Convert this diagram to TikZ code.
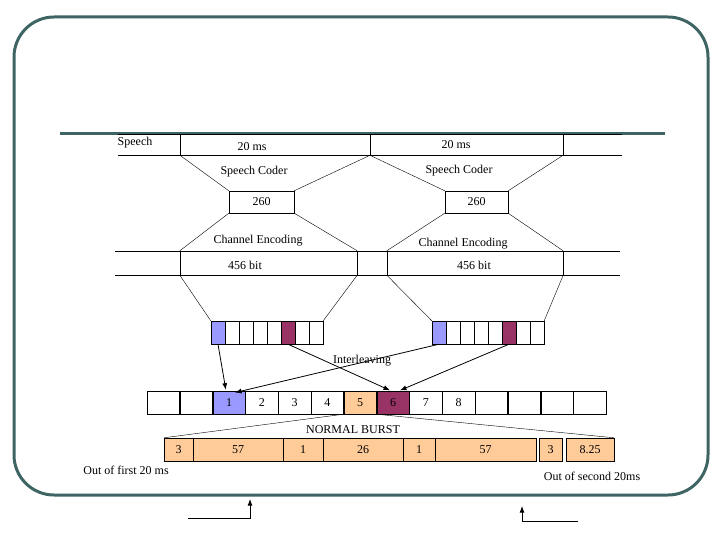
\documentclass[tikz,border=0pt]{standalone}
\usepackage{fontspec}
\setmainfont{Liberation Serif}
\usetikzlibrary{arrows.meta,positioning}
\definecolor{myframe}{HTML}{3F6464}
\definecolor{myblue}{HTML}{9999FF}
\definecolor{mypurple}{HTML}{993366}
\definecolor{mypeach}{HTML}{FFCC99}
\tikzset{
  >=Latex,
  txt/.style={font=\fontsize{12}{14}\selectfont, inner sep=0},
  box/.style={draw, inner sep=0, font=\fontsize{12}{14}\selectfont},
  cell/.style={draw, minimum width=14, minimum height=23, inner sep=0},
  slot/.style={draw, minimum width=32.8, minimum height=23, inner sep=0, font=\fontsize{12}{14}\selectfont},
  burst/.style={draw, fill=mypeach, minimum height=23, inner sep=0, font=\fontsize{12}{14}\selectfont},
  interleave/.style={->, thick, shorten >=1pt},
  frame/.style={myframe, line width=3}
}
\begin{document}
\begin{tikzpicture}[x=1pt,y=-1pt]
  \useasboundingbox (0,0) rectangle (720,540);

  % --- FRAME ---
  \draw[frame, rounded corners=40] (14,17) rectangle (708,495);
  \draw[frame] (60,134) -- (665,134);

  % --- SPEECH ROW ---
  \draw (118,134) -- (622,134);
  \draw (118,155) -- (622,155);
  \node[txt] (speech) at (135,143) {Speech};
  \node[box, minimum width=190, minimum height=21] (sp1) at (275,144.5) {};
  \node[box, minimum width=193, minimum height=21] (sp2) at (466.5,144.5) {};
  \node[txt] at (252,147) {20 ms};
  \node[txt] at (456,145) {20 ms};

  % --- SPEECH CODER ---
  \node[box, minimum width=65, minimum height=22] (c1) at (261.5,202) {260};
  \node[box, minimum width=63, minimum height=22] (c2) at (476.5,202) {260};
  \node[txt] at (254,172) {Speech Coder};
  \node[txt] at (459,171) {Speech Coder};
  \draw (sp1.south west) -- (c1.north west);
  \draw (sp1.south east) -- (c1.north east);
  \draw (sp2.south west) -- (c2.north west);
  \draw (sp2.south east) -- (c2.north east);

  % --- CHANNEL ENCODING ---
  \draw (115,251) -- (620,251);
  \draw (115,275) -- (620,275);
  \node[box, minimum width=177, minimum height=24] (ch1) at (268.5,263) {};
  \node[box, minimum width=176, minimum height=24] (ch2) at (475,263) {};
  \node[txt] at (245,265) {456 bit};
  \node[txt] at (474,265) {456 bit};
  \node[txt] at (258,241) {Channel Encoding};
  \node[txt] at (463,244) {Channel Encoding};
  \draw (c1.south west) -- (ch1.north west);
  \draw (c1.south east) -- (ch1.north east);
  \draw (c2.south west) -- (ch2.north west);
  \draw (c2.south east) -- (ch2.north east);

  % --- BLOCKS OF 8 ---
  \foreach \i in {1,...,8} {
    \node[cell] (a\i) at ({218+14*(\i-1)},332.5) {};
    \node[cell] (b\i) at ({439+14*(\i-1)},332.5) {};
  }
  \foreach \n in {a1,b1} {\fill[myblue] (\n.south west) rectangle (\n.north east); \draw (\n.south west) rectangle (\n.north east);}
  \foreach \n in {a6,b6} {\fill[mypurple] (\n.south west) rectangle (\n.north east); \draw (\n.south west) rectangle (\n.north east);}
  \draw (ch1.south west) -- (a1.north west);
  \draw (ch1.south east) -- (a8.north east);
  \draw (ch2.south west) -- (b1.north west);
  \draw (ch2.south east) -- (b8.north east);

  % --- INTERLEAVING ---
  \foreach \i in {1,...,14} {
    \node[slot] (s\i) at ({163.4+32.8*(\i-1)},402.5) {};
  }
  \fill[myblue] (s3.south west) rectangle (s3.north east);
  \fill[mypeach] (s7.south west) rectangle (s7.north east);
  \fill[mypurple] (s8.south west) rectangle (s8.north east);
  \foreach \i in {1,...,14} {\draw (s\i.south west) rectangle (s\i.north east);}
  \foreach \i/\t in {3/1,4/2,5/3,6/4,7/5,8/6,9/7,10/8} {
    \node[txt] at (s\i) {\t};
  }
  \node[txt] (inter) at (362,361) {Interleaving};
  \draw[interleave] (a1.south) -- ([xshift=-3]s3.north);
  \draw[interleave] (a6.south) -- ([xshift=-2]s8.north);
  \draw[interleave] (b1.south) -- ([xshift=5,yshift=-2]s3.north);
  \draw[interleave] (b6.south) -- ([xshift=6]s8.north);

  % --- NORMAL BURST ---
  \node[burst, minimum width=29] (bu1) at (178.5,449.5) {3};
  \node[burst, minimum width=90] (bu2) at (238,449.5) {57};
  \node[burst, minimum width=40] (bu3) at (303,449.5) {1};
  \node[burst, minimum width=80] (bu4) at (363,449.5) {26};
  \node[burst, minimum width=32] (bu5) at (419,449.5) {1};
  \node[burst, minimum width=101] (bu6) at (485.5,449.5) {57};
  \node[burst, minimum width=23] (bu7) at (550.5,449.5) {3};
  \node[burst, minimum width=48] (bu8) at (590,449.5) {8.25};
  \node[txt] at (353,430) {NORMAL BURST};
  \draw (s7.south west) -- (bu1.north west);
  \draw (s8.south west) -- (bu8.north east);
  \node[txt] at (126,470) {Out of first 20 ms};
  \node[txt] at (592,476) {Out of second 20ms};

  % --- BOTTOM ARROWS ---
  \coordinate (p1) at (188,518);
  \coordinate (p2) at (250,499);
  \coordinate (q1) at (578,521);
  \coordinate (q2) at (522,506);
  \draw[thick, ->] (p1) -| (p2);
  \draw[thick, ->] (q1) -| (q2);
\end{tikzpicture}
\end{document}
